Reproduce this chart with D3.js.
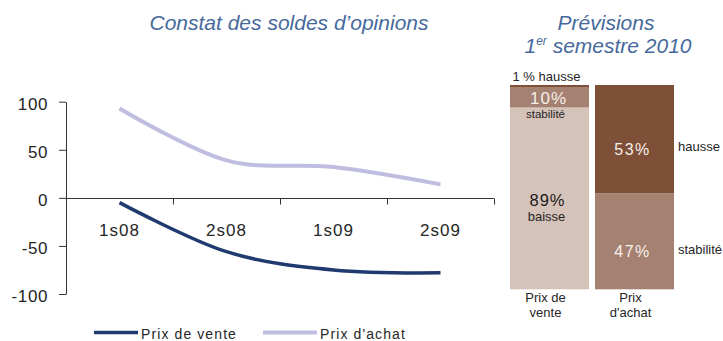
<!DOCTYPE html>
<html>
<head>
<meta charset="utf-8">
<script src="https://cdn.jsdelivr.net/npm/d3@7/dist/d3.min.js"></script>
<style>
  html, body { margin: 0; padding: 0; background: #fff; }
  svg { display: block; }
</style>
</head>
<body>
<div id="chart"></div>
<script>
// Soldes d'opinions par semestre
const periods = ["1s08", "2s08", "1s09", "2s09"];
const prixVente = [-5, -56, -75, -78];
const prixAchat = [93, 39, 32, 14];
const yTicks = [-100, -50, 0, 50, 100];

// Prévisions 1er semestre 2010 (parts en %)
const forecastGroups = ["Prix de vente", "Prix d'achat"];
const forecastKeys = ["baisse", "stabilité", "hausse"];
const baisseShares = [89, 0];
const stabiliteShares = [10, 47];
const hausseShares = [1, 53];

const W = 723, H = 341;
const svg = d3.select("#chart").append("svg")
  .attr("width", W).attr("height", H)
  .style("font-family", "'Liberation Sans', Arial, sans-serif");

const titleColor = "#46699b";
const textColor = "#262626";
const axisColor = "#333";

// Titles
svg.append("text")
  .attr("x", 289).attr("y", 30)
  .attr("text-anchor", "middle")
  .attr("font-size", 21).attr("font-style", "italic")
  .attr("fill", titleColor)
  .text("Constat des soldes d\u2019opinions");

svg.append("text")
  .attr("x", 606).attr("y", 30)
  .attr("text-anchor", "middle")
  .attr("font-size", 21).attr("font-style", "italic")
  .attr("fill", titleColor)
  .text("Prévisions");

const sub = svg.append("text")
  .attr("x", 608).attr("y", 53)
  .attr("text-anchor", "middle")
  .attr("font-size", 21).attr("font-style", "italic")
  .attr("fill", titleColor);
sub.append("tspan").text("1");
sub.append("tspan").attr("font-size", 12).attr("dy", -8).text("er");
sub.append("tspan").attr("dy", 8).text(" semestre 2010");

// ---- Line chart ----
const x = d3.scaleBand().domain(periods).range([66, 494]);
const y = d3.scaleLinear().domain([-100, 100]).range([294, 101.7]);
const bw = x.bandwidth();

const yAxis = svg.append("g")
  .attr("transform", "translate(66,0)")
  .call(d3.axisLeft(y).tickValues(yTicks).tickSize(7).tickSizeOuter(0).tickPadding(11)
    .tickFormat(d => String(d)));
yAxis.select(".domain").attr("stroke", axisColor);
yAxis.selectAll(".tick line").attr("stroke", axisColor);
yAxis.selectAll(".tick text")
  .attr("font-size", 17).attr("letter-spacing", 0.6)
  .attr("fill", textColor).attr("dy", "0.45em")
  .style("font-family", "'Liberation Sans', Arial, sans-serif");

// Category axis on the zero line, tick marks at band boundaries
const y0 = Math.round(y(0)) + 0.5;
const xAxis = svg.append("g");
xAxis.append("line")
  .attr("x1", x.range()[0]).attr("x2", x.range()[1])
  .attr("y1", y0).attr("y2", y0)
  .attr("stroke", axisColor);
const boundaries = periods.map(p => x(p)).concat([x.range()[1]]);
xAxis.selectAll("line.tick").data(boundaries).enter().append("line")
  .attr("class", "tick")
  .attr("x1", d => Math.round(d) + 0.5).attr("x2", d => Math.round(d) + 0.5)
  .attr("y1", y0).attr("y2", y0 + 6)
  .attr("stroke", axisColor);
xAxis.selectAll("text").data(periods).enter().append("text")
  .attr("x", d => x(d) + bw / 2)
  .attr("y", 235.5)
  .attr("text-anchor", "middle")
  .attr("font-size", 17).attr("letter-spacing", 1)
  .attr("fill", textColor)
  .text(d => d);

const line = d3.line()
  .x(d => x(d.p) + bw / 2)
  .y(d => y(d.v))
  .curve(d3.curveCardinal.tension(0));

const achatColor = "#bfbde0";
const venteColor = "#1f3a6f";

svg.append("path")
  .datum(periods.map((p, i) => ({ p, v: prixAchat[i] })))
  .attr("d", line)
  .attr("fill", "none").attr("stroke", achatColor).attr("stroke-width", 4);

svg.append("path")
  .datum(periods.map((p, i) => ({ p, v: prixVente[i] })))
  .attr("d", line)
  .attr("fill", "none").attr("stroke", venteColor).attr("stroke-width", 3.5);

// Legend
const legend = [
  { name: "Prix de vente", color: venteColor, x0: 94, x1: 138, w: 3.5 },
  { name: "Prix d'achat", color: achatColor, x0: 263, x1: 317, w: 4 }
];
const lg = svg.append("g");
legend.forEach(l => {
  lg.append("line")
    .attr("x1", l.x0).attr("x2", l.x1).attr("y1", 332.5).attr("y2", 332.5)
    .attr("stroke", l.color).attr("stroke-width", l.w);
  lg.append("text")
    .attr("x", l.x1 + 3).attr("y", 338.5)
    .attr("font-size", 14).attr("letter-spacing", 1.1)
    .attr("fill", textColor)
    .text(l.name);
});

// ---- Stacked forecast bars ----
const rows = forecastGroups.map((g, i) => ({
  group: g,
  "baisse": baisseShares[i],
  "stabilité": stabiliteShares[i],
  "hausse": hausseShares[i]
}));
const series = d3.stack().keys(forecastKeys)(rows);

const xb = d3.scaleBand().domain(forecastGroups).range([510, 674]).paddingInner(0.0706);
const yb = d3.scaleLinear().domain([0, 100]).range([289.3, 85]);
const barColor = { "baisse": "#d5c2b9", "stabilité": "#a48171", "hausse": "#7f5038" };

svg.append("g").selectAll("g").data(series).enter().append("g")
  .attr("fill", s => barColor[s.key])
  .selectAll("rect").data(s => s).enter().append("rect")
  .attr("x", d => xb(d.data.group))
  .attr("width", xb.bandwidth())
  .attr("y", d => yb(d[1]))
  .attr("height", d => yb(d[0]) - yb(d[1]));

const cx = g => xb(g) + xb.bandwidth() / 2;
const seg = (gi, key) => series.find(s => s.key === key)[gi];
const pct = (gi, key) => rows[gi][key] + "%";
const lightText = "#f6efea";

function label(txt, xx, yy, opts) {
  const t = svg.append("text")
    .attr("x", xx).attr("y", yy)
    .attr("text-anchor", opts.anchor || "middle")
    .attr("font-size", opts.size)
    .attr("fill", opts.color)
    .text(txt);
  if (opts.spacing) t.attr("letter-spacing", opts.spacing);
  return t;
}

// Prix de vente
const gv = forecastGroups[0];
label(rows[0]["hausse"] + " % hausse", cx(gv) - 3, 80.5, { size: 13, color: textColor });
const sv = seg(0, "stabilité");
label(pct(0, "stabilité"), cx(gv) - 1, yb(sv[1]) + 17, { size: 17, color: lightText, spacing: 1 });
label("stabilité", cx(gv) - 4, yb(sv[1]) + 31, { size: 11.5, color: textColor });
const bv = seg(0, "baisse");
const bvMid = (yb(bv[0]) + yb(bv[1])) / 2;
label(pct(0, "baisse"), cx(gv) - 2, bvMid + 8, { size: 16.5, color: "#1a1a1a", spacing: 1 });
label("baisse", cx(gv) - 3, bvMid + 22.5, { size: 13, color: textColor });

// Prix d'achat
const ga = forecastGroups[1];
const xRight = xb(ga) + xb.bandwidth() + 4;
const ha = seg(1, "hausse");
const haMid = (yb(ha[0]) + yb(ha[1])) / 2;
label(pct(1, "hausse"), cx(ga) - 2, haMid + 16, { size: 16, color: lightText, spacing: 1.5 });
label("hausse", xRight, haMid + 12, { size: 13, color: textColor, anchor: "start" });
const sa = seg(1, "stabilité");
const saMid = (yb(sa[0]) + yb(sa[1])) / 2;
label(pct(1, "stabilité"), cx(ga) - 2, saMid + 16, { size: 16, color: lightText, spacing: 1.5 });
label("stabilité", xRight, saMid + 12.5, { size: 13, color: textColor, anchor: "start" });

// Category labels under the bars
const catLines = { "Prix de vente": ["Prix de", "vente"], "Prix d'achat": ["Prix", "d'achat"] };
forecastGroups.forEach(g => {
  catLines[g].forEach((ln, j) => {
    label(ln, cx(g) - 4, 301.7 + j * 15.6, { size: 13, color: textColor });
  });
});
</script>
</body>
</html>
